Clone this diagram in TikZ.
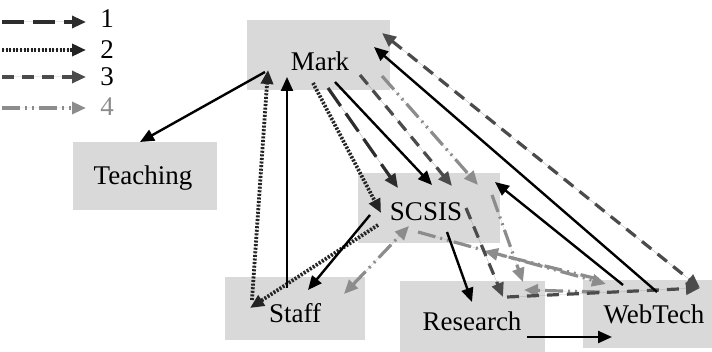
\documentclass[tikz,border=0pt]{standalone}
\usepackage{fontspec}
\setmainfont{Liberation Serif}
\usetikzlibrary{arrows.meta}
\definecolor{boxfill}{RGB}{217,217,217}
\definecolor{ink1}{RGB}{45,45,45}
\definecolor{ink2}{RGB}{35,35,35}
\definecolor{ink3}{RGB}{75,75,75}
\definecolor{ink4}{RGB}{140,140,140}
\tikzset{
  lbl/.style={inner sep=0pt, font=\fontsize{13.5}{16}\selectfont},
  tip/.style={-{Triangle[length=7pt,width=6pt]}},
  both/.style={{Triangle[length=7pt,width=6pt]}-{Triangle[length=7pt,width=6pt]}},
  solidline/.style={draw=black, line width=1.2pt, tip},
  flowone/.style={draw=ink1, fill=ink1, line width=1.6pt, dash pattern=on 11pt off 4.5pt, tip},
  flowtwo/.style={draw=ink2, fill=ink2, line width=1.9pt, dash pattern=on 1pt off 0.8pt, tip},
  flowthree/.style={draw=ink3, fill=ink3, line width=1.6pt, dash pattern=on 6pt off 4pt, tip},
  flowfour/.style={draw=ink4, fill=ink4, line width=1.6pt, dash pattern=on 9pt off 2.5pt on 1pt off 2.5pt on 1pt off 2.5pt, tip},
}
\begin{document}
\begin{tikzpicture}[x=0.5pt, y=-0.5pt]
\useasboundingbox (0,0) rectangle (712,352);

% grey backing boxes
\fill[boxfill] (247,20) rectangle (390,90);
\fill[boxfill] (73,142) rectangle (217,210);
\fill[boxfill] (358,173) rectangle (500,243);
\fill[boxfill] (225,277) rectangle (365,340);
\fill[boxfill] (400,281) rectangle (545,352);
\fill[boxfill] (583,280) rectangle (712,348);

% actors
\node[lbl] (mark) at (320,61) {Mark};
\node[lbl] (teach) at (143,178) {Teaching};
\node[lbl] (scsis) at (426,212) {SCSIS};
\node[lbl] (staff) at (295,313) {Staff};
\node[lbl] (research) at (472,321) {Research};
\node[lbl] (webtech) at (654,314) {WebTech};

% legend
\node[lbl, anchor=west] (l1) at (100,19) {1};
\node[lbl, anchor=west] (l2) at (100,50) {2};
\node[lbl, anchor=west] (l3) at (100,77) {3};
\node[lbl, anchor=west, text=ink4] (l4) at (100,107) {4};
\coordinate (s1) at (2,22);  \coordinate (e1) at (86,22);
\coordinate (s2) at (2,50);  \coordinate (e2) at (86,50);
\coordinate (s3) at (2,77);  \coordinate (e3) at (86,77);
\coordinate (s4) at (2,108); \coordinate (e4) at (86,108);
\draw[flowone] (s1) -- (e1);
\draw[flowtwo] (s2) -- (e2);
\draw[flowthree] (s3) -- (e3);
\draw[flowfour] (s4) -- (e4);

% flow 4
\draw[flowfour] ([shift={(62,15)}]mark.center) -- ([shift={(52,-27)}]scsis.center);
\draw[flowfour, both] ([shift={(49,-19)}]staff.center) -- ([shift={(-17,14)}]scsis.center);
\draw[flowfour] ([shift={(-8,20)}]scsis.center) -- ([shift={(-48,-30)}]webtech.center);
\draw[flowfour] ([shift={(-56,-35)}]webtech.center) -- ([shift={(58,39)}]scsis.center);
\draw[flowfour] ([shift={(66,-17)}]scsis.center) -- ([shift={(51,-39)}]research.center);
\draw[flowfour] ([shift={(-54,-22)}]webtech.center) -- ([shift={(52,-31)}]research.center);

% flow 3
\draw[flowthree] ([shift={(40,14)}]mark.center) -- ([shift={(26,-26)}]scsis.center);
\draw[flowthree] ([shift={(40,-4)}]scsis.center) -- ([shift={(31,-24)}]research.center);
\draw[flowthree] ([shift={(35,-24)}]research.center) -- ([shift={(46,-26)}]webtech.center);
\draw[flowthree, both] ([shift={(62,-28)}]mark.center) -- ([shift={(46,-26)}]webtech.center);

% flow 1
\draw[flowone] ([shift={(8,27)}]mark.center) -- ([shift={(-28,-24)}]scsis.center);

% flow 2
\draw[flowtwo] ([shift={(-7,22)}]mark.center) -- ([shift={(-45,1)}]scsis.center);
\draw[flowtwo] ([shift={(-48,13)}]scsis.center) -- ([shift={(-45,-5)}]staff.center);
\draw[flowtwo] ([shift={(-43,-13)}]staff.center) -- ([shift={(-52,9)}]mark.center);

% solid links
\draw[solidline] ([shift={(-55,11)}]mark.center) -- ([shift={(-3,-36)}]teach.center);
\draw[solidline] ([shift={(-8,-25)}]staff.center) -- ([shift={(-33,16)}]mark.center);
\draw[solidline] ([shift={(15,21)}]mark.center) -- ([shift={(6,-27)}]scsis.center);
\draw[solidline] ([shift={(3,-22)}]webtech.center) -- ([shift={(54,-14)}]mark.center);
\draw[solidline] ([shift={(-31,-29)}]webtech.center) -- ([shift={(69,-30)}]scsis.center);
\draw[solidline] ([shift={(-56,3)}]scsis.center) -- ([shift={(13,-23)}]staff.center);
\draw[solidline] ([shift={(21,20)}]scsis.center) -- ([shift={(0,-19)}]research.center);
\draw[solidline] ([shift={(55,16)}]research.center) -- ([shift={(-42,23)}]webtech.center);
\end{tikzpicture}
\end{document}
